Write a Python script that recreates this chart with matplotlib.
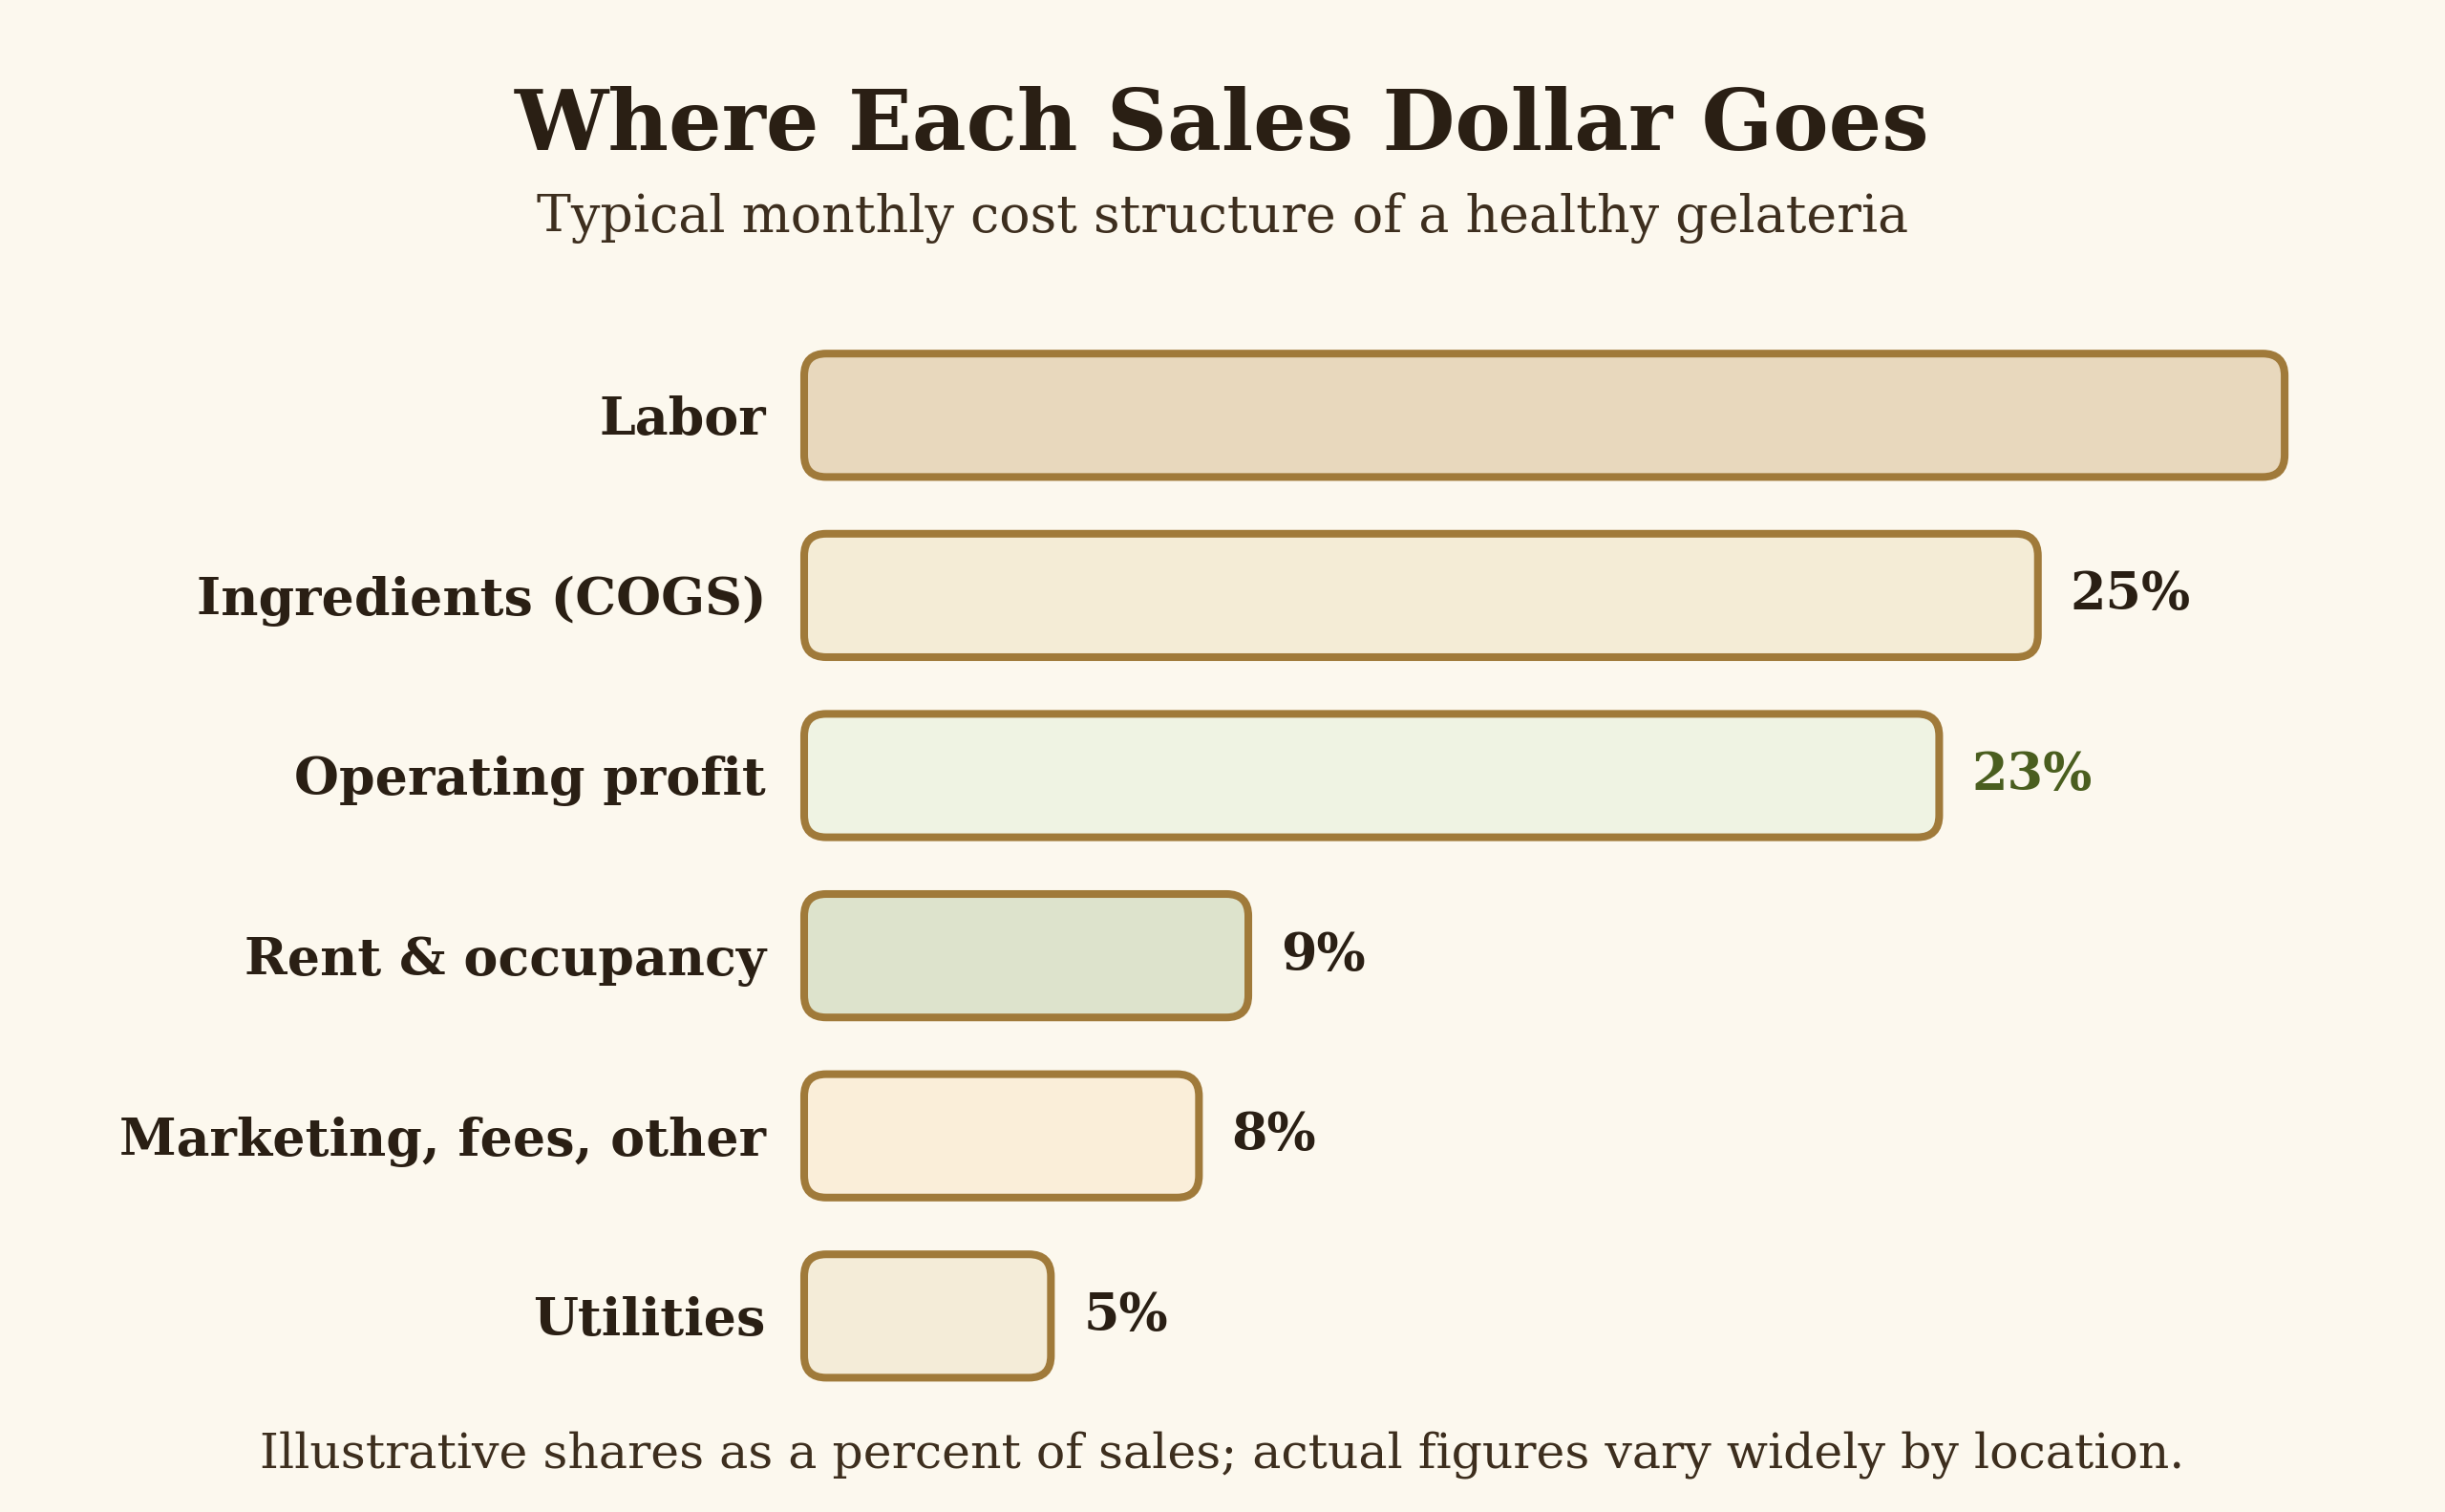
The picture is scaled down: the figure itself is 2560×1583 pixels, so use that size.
import numpy as np
import matplotlib

matplotlib.use("Agg")
import matplotlib.pyplot as plt
from matplotlib.patches import FancyBboxPatch

# data
CATEGORIES = [
    "Labor",
    "Ingredients (COGS)",
    "Operating profit",
    "Rent & occupancy",
    "Marketing, fees, other",
    "Utilities",
]
SHARES = [30, 25, 23, 9, 8, 5]
FILLS = ["#e8d8bd", "#f4ecd6", "#eff3e3", "#dde3cc", "#faeed9", "#f4ecd8"]
LABEL_COLORS = ["#2a1f14", "#2a1f14", "#4a5e1f", "#2a1f14", "#2a1f14", "#2a1f14"]

TITLE = "Where Each Sales Dollar Goes"
SUBTITLE = "Typical monthly cost structure of a healthy gelateria"
FOOTNOTE = "Illustrative shares as a percent of sales; actual figures vary widely by location."

# style
BG = "#fcf8ee"
EDGE = "#a07a3a"
DARK = "#2a1f14"
MUTED = "#3d2e1e"
W_PX, H_PX, DPI = 2560, 1583, 200
X_MAX = 30.3
BAR_H = 0.685
RADIUS_PX = 23

plt.rcParams["font.family"] = ["DejaVu Serif"]

fig = plt.figure(figsize=(W_PX / DPI, H_PX / DPI), dpi=DPI)
fig.patch.set_facecolor(BG)

# axes geometry in pixels
ax_left, px_per_unit = 842, 51.67
ax_top, ax_bottom = 340.5, 1472.1
ax_w = X_MAX * px_per_unit
ax = fig.add_axes([ax_left / W_PX, 1 - ax_bottom / H_PX, ax_w / W_PX, (ax_bottom - ax_top) / H_PX])
ax.set_facecolor(BG)
n = len(CATEGORIES)
ax.set_xlim(0, X_MAX)
ax.set_ylim(n - 0.5, -0.5)
for s in ax.spines.values():
    s.set_visible(False)
ax.set_xticks([])
ax.set_yticks(range(n))
ax.set_yticklabels(CATEGORIES, fontsize=19.4, fontweight="bold", color=DARK)
ax.tick_params(axis="y", length=0, pad=14.4)

px_per_row = (ax_bottom - ax_top) / n
r_x = RADIUS_PX / px_per_unit
aspect = (RADIUS_PX / px_per_row) / r_x

for i, (val, fill, lc) in enumerate(zip(SHARES, FILLS, LABEL_COLORS)):
    box = FancyBboxPatch(
        (0, i - BAR_H / 2), val, BAR_H,
        boxstyle="round,pad=0,rounding_size=%f" % r_x,
        mutation_aspect=aspect,
        facecolor=fill, edgecolor=EDGE, linewidth=2.9,
        clip_on=False, zorder=2,
    )
    ax.add_patch(box)
    ax.text(val + 0.66, i, "%d%%" % val, ha="left", va="center",
            fontsize=19.4, fontweight="bold", color=lc, clip_on=True)

fig.text(0.5, 1 - 157 / H_PX, TITLE, ha="center", va="baseline",
         fontsize=31.5, fontweight="bold", color=DARK)
fig.text(0.5, 1 - 243 / H_PX, SUBTITLE, ha="center", va="baseline",
         fontsize=19.4, color=MUTED)
fig.text(0.5, 1 - 1536 / H_PX, FOOTNOTE, ha="center", va="baseline",
         fontsize=18.2, color=MUTED)

fig.savefig("out.png", dpi=DPI, facecolor=fig.get_facecolor())
